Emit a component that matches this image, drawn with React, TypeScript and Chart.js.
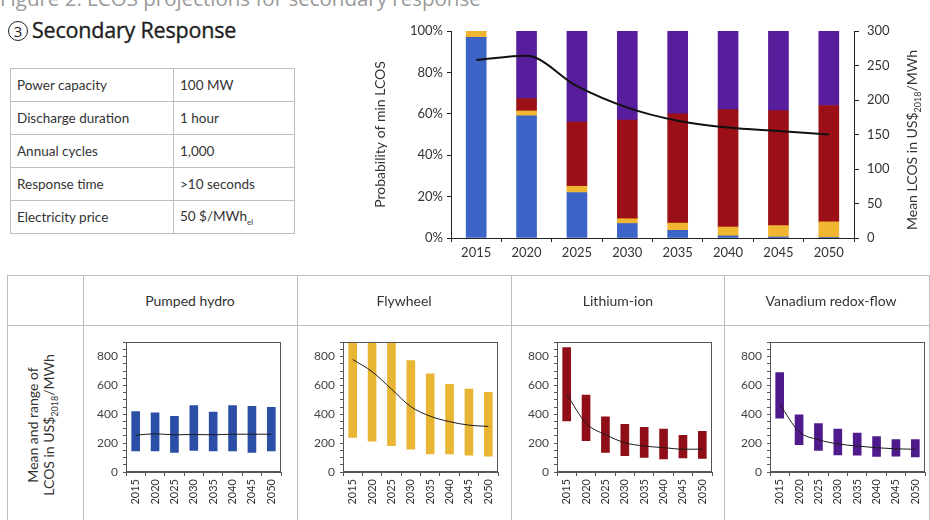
import React, { useEffect, useRef } from 'react';
import { Chart, registerables } from 'chart.js';

Chart.register(...registerables);

// ---------- data ----------
const years = ['2015', '2020', '2025', '2030', '2035', '2040', '2045', '2050'];

// top chart: probability of lowest LCOS (%)
const probPumpedHydro = [97, 59, 22, 7, 3.7, 1, 0.5, 0.3];
const probFlywheel = [3, 2.4, 3, 2.3, 3.5, 4.3, 5.5, 7.5];
const probLithiumIon = [0, 6, 31, 47.7, 52.8, 56.7, 55.5, 56.2];
const probVanadium = [0, 32.6, 44, 43, 40, 38, 38.5, 36];
// mean LCOS of the cheapest technology (US$2018/MWh)
const meanLcosOverall = [258, 264, 220, 189, 170, 160, 155, 150];

// left axis tick values (%) and right axis tick values
const probTicks = [0, 20, 40, 60, 80, 100];
const lcosTicks = [0, 50, 100, 150, 200, 250, 300];
const rangeTickLabels = [0, 200, 400, 600, 800];

// bottom panels: range (low / high) and mean of LCOS
const phLow = [146, 146, 135, 150, 146, 146, 135, 146];
const phHigh = [419, 410, 386, 460, 415, 460, 455, 448];
const phMean = [255, 265, 258, 260, 258, 262, 262, 262];

const fwLow = [239, 214, 183, 159, 126, 126, 117, 110];
const fwHigh = [1000, 1000, 1000, 773, 681, 608, 575, 552];
const fwMean = [780, 696, 575, 453, 387, 349, 325, 316];

const liLow = [354, 218, 135, 113, 101, 90, 97, 95];
const liHigh = [863, 534, 383, 331, 309, 297, 255, 282];
const liMean = [540, 338, 259, 203, 180, 169, 158, 158];

const vrLow = [374, 190, 150, 119, 116, 108, 110, 105];
const vrHigh = [690, 396, 336, 298, 269, 246, 224, 224];
const vrMean = [470, 280, 224, 195, 180, 168, 161, 157];

const techNames = ['Pumped hydro', 'Flywheel', 'Lithium-ion', 'Vanadium redox-flow'];

const tableRows: [string, string, string?][] = [
  ['Power capacity', '100 MW'],
  ['Discharge duration', '1 hour'],
  ['Annual cycles', '1,000'],
  ['Response time', '>10 seconds'],
  ['Electricity price', '50 $/MWh', 'el'],
];

// ---------- styles ----------
const FONT = 'Lato, "Noto Sans", sans-serif';
const C_BLUE = '#3c63c6';
const C_YELLOW = '#f0b531';
const C_RED = '#9a1016';
const C_PURPLE = '#571d9c';
const S_BLUE = '#2b4fa6';
const S_YELLOW = '#e8b534';
const S_RED = '#8f0e18';
const S_PURPLE = '#4e1a8c';
const GRID_LINE = '#bdbdbd';

const framePlugin = {
  id: 'frame',
  afterDraw(chart: any) {
    const { ctx, chartArea } = chart;
    ctx.save();
    ctx.strokeStyle = '#555';
    ctx.lineWidth = 1;
    ctx.strokeRect(
      Math.round(chartArea.left) + 0.5,
      Math.round(chartArea.top) + 0.5,
      Math.round(chartArea.right - chartArea.left) - 1,
      Math.round(chartArea.bottom - chartArea.top) - 1
    );
    ctx.restore();
  },
};

function ChartCanvas({ left, top, width, height, makeConfig }: any) {
  const ref = useRef<HTMLCanvasElement>(null);
  useEffect(() => {
    const chart = new Chart(ref.current as HTMLCanvasElement, makeConfig());
    return () => chart.destroy();
  }, []);
  return (
    <canvas
      ref={ref}
      width={width}
      height={height}
      style={{ position: 'absolute', left, top, width, height }}
    />
  );
}

function topConfig() {
  const barDs = (label: string, data: number[], color: string) => ({
    type: 'bar' as const,
    label,
    data,
    backgroundColor: color,
    borderWidth: 0,
    barThickness: 20,
    stack: 'share',
    yAxisID: 'y',
    order: 2,
  });
  return {
    type: 'bar',
    data: {
      labels: years,
      datasets: [
        {
          type: 'line' as const,
          label: 'Mean LCOS',
          data: meanLcosOverall,
          yAxisID: 'y1',
          borderColor: '#111',
          borderWidth: 2,
          pointRadius: 0,
          cubicInterpolationMode: 'monotone',
          order: 0,
        },
        barDs('Pumped hydro', probPumpedHydro, C_BLUE),
        barDs('Flywheel', probFlywheel, C_YELLOW),
        barDs('Lithium-ion', probLithiumIon, C_RED),
        barDs('Vanadium redox-flow', probVanadium, C_PURPLE),
      ],
    },
    options: {
      responsive: false,
      animation: false,
      devicePixelRatio: 1,
      layout: { padding: { left: 12, top: 16, right: 0, bottom: 0 } },
      plugins: { legend: { display: false }, tooltip: { enabled: false } },
      scales: {
        x: {
          stacked: true,
          grid: { drawOnChartArea: false, tickLength: 4, color: '#222', offset: true },
          border: { color: '#222', width: 1 },
          ticks: { color: '#333', font: { family: FONT, size: 13 }, padding: 3, maxRotation: 0 },
          afterFit: (s: any) => { s.height = 37; },
        },
        y: {
          stacked: true,
          min: 0,
          max: 100,
          afterBuildTicks: (s: any) => { s.ticks = probTicks.map((v) => ({ value: v })); },
          grid: { drawOnChartArea: false, tickLength: 4, color: '#222' },
          border: { color: '#222', width: 1 },
          ticks: { color: '#333', font: { family: FONT, size: 13 }, padding: 4, callback: (v: any) => v + '%' },
          title: { display: true, text: 'Probability of min LCOS', color: '#333', font: { family: FONT, size: 14 }, padding: { top: 0, bottom: 6 } },
          afterFit: (s: any) => { s.width = 79; },
        },
        y1: {
          position: 'right',
          min: 0,
          max: 300,
          afterBuildTicks: (s: any) => { s.ticks = lcosTicks.map((v) => ({ value: v })); },
          grid: { drawOnChartArea: false, tickLength: 5, color: '#222' },
          border: { color: '#222', width: 1 },
          ticks: { color: '#333', font: { family: FONT, size: 13 }, padding: 8 },
          afterFit: (s: any) => { s.width = 76; },
        },
      },
    },
  };
}

function rangeConfig(low: number[], high: number[], mean: number[], color: string) {
  return () => ({
    type: 'bar',
    data: {
      labels: years,
      datasets: [
        {
          type: 'line' as const,
          data: mean,
          borderColor: '#1a1a1a',
          borderWidth: 1,
          pointRadius: 0,
          cubicInterpolationMode: 'monotone',
          order: 0,
        },
        {
          type: 'bar' as const,
          data: low.map((l, i) => [l, high[i]]),
          backgroundColor: color,
          borderWidth: 0,
          barThickness: 8,
          order: 1,
        },
      ],
    },
    options: {
      responsive: false,
      animation: false,
      devicePixelRatio: 1,
      layout: { padding: { left: 0, top: 9, right: 7, bottom: 0 } },
      plugins: { legend: { display: false }, tooltip: { enabled: false } },
      scales: {
        x: {
          grid: { drawOnChartArea: false, tickLength: 4, color: '#555', offset: true },
          border: { color: '#555', width: 1 },
          ticks: { color: '#333', font: { family: FONT, size: 11 }, padding: 3, minRotation: 90, maxRotation: 90, autoSkip: false },
          afterFit: (s: any) => { s.height = 48; },
        },
        y: {
          min: 0,
          max: 900,
          ticks: {
            stepSize: 50,
            autoSkip: false,
            color: '#444',
            font: { family: FONT, size: 12 },
            padding: 5,
            callback: (v: any) => (rangeTickLabels.includes(v) ? String(v) : ''),
          },
          grid: { drawOnChartArea: false, tickLength: 3, color: '#555' },
          border: { color: '#555', width: 1 },
          afterFit: (s: any) => { s.width = 44; },
        },
      },
    },
    plugins: [framePlugin],
  });
}

const panels = [
  { name: techNames[0], plotLeft: 126, cfg: rangeConfig(phLow, phHigh, phMean, S_BLUE) },
  { name: techNames[1], plotLeft: 343, cfg: rangeConfig(fwLow, fwHigh, fwMean, S_YELLOW) },
  { name: techNames[2], plotLeft: 557, cfg: rangeConfig(liLow, liHigh, liMean, S_RED) },
  { name: techNames[3], plotLeft: 770, cfg: rangeConfig(vrLow, vrHigh, vrMean, S_PURPLE) },
];
const colLines = [83, 297, 511, 724];

export default function App() {
  const text: React.CSSProperties = { position: 'absolute', fontFamily: FONT, color: '#333', whiteSpace: 'nowrap' };
  return (
    <div style={{ position: 'absolute', left: 0, top: 0, width: 930, height: 520, overflow: 'hidden', background: '#fff' }}>
      {/* figure caption (cut at top) */}
      <div style={{ ...text, left: 0, top: -12, fontSize: 20.5, lineHeight: '21px', color: '#9a9a9a', fontFamily: '"Open Sans", sans-serif' }}>
        Figure 2. LCOS projections for secondary response
      </div>

      {/* heading */}
      <div style={{ position: 'absolute', left: 8, top: 21, width: 18, height: 18, border: '1.5px solid #222', borderRadius: '50%', fontFamily: '"Open Sans", sans-serif', fontSize: 15, lineHeight: '18px', textAlign: 'center', color: '#222' }}>3</div>
      <div style={{ ...text, left: 32, top: 17, fontSize: 21.5, fontWeight: 500, color: '#1e1e1e', lineHeight: '26px', fontFamily: '"Open Sans", sans-serif', letterSpacing: '-0.2px', WebkitTextStroke: '0.35px #1e1e1e' }}>Secondary Response</div>

      {/* parameters table */}
      <table style={{ position: 'absolute', left: 10, top: 68, borderCollapse: 'collapse', fontFamily: FONT, fontSize: 13.5, color: '#333' }}>
        <tbody>
          {tableRows.map((r, i) => (
            <tr key={i} style={{ height: 33 }}>
              <td style={{ border: `1px solid ${GRID_LINE}`, width: 156, padding: '0 0 0 6px' }}>{r[0]}</td>
              <td style={{ border: `1px solid ${GRID_LINE}`, width: 114, padding: '0 0 0 6px' }}>
                {r[1]}
                {r[2] ? <sub style={{ fontSize: 8 }}>{r[2]}</sub> : null}
              </td>
            </tr>
          ))}
        </tbody>
      </table>

      {/* top chart */}
      <ChartCanvas left={360} top={15} width={570} height={260} makeConfig={topConfig} />
      <div style={{ ...text, left: 915, top: 140, fontSize: 14, transform: 'translate(-50%, -50%) rotate(-90deg)', lineHeight: '16px' }}>
        Mean LCOS in US$<sub style={{ fontSize: 9 }}>2018</sub>/MWh
      </div>

      {/* bottom grid */}
      <div style={{ position: 'absolute', left: 7, top: 275, width: 940, height: 300, borderTop: `1px solid ${GRID_LINE}`, borderLeft: `1px solid ${GRID_LINE}` }} />
      <div style={{ position: 'absolute', left: 7, top: 325, width: 940, height: 0, borderTop: `1px solid ${GRID_LINE}` }} />
      {colLines.map((x) => (
        <div key={x} style={{ position: 'absolute', left: x, top: 275, width: 0, height: 300, borderLeft: `1px solid ${GRID_LINE}` }} />
      ))}
      <div style={{ position: 'absolute', left: 929, top: 275, width: 0, height: 300, borderLeft: `1px solid ${GRID_LINE}` }} />
      {panels.map((p, i) => (
        <div key={p.name} style={{ ...text, left: colLines[i], width: 214, top: 291, fontSize: 14, textAlign: 'center', lineHeight: '20px' }}>{p.name}</div>
      ))}
      <div style={{ ...text, left: 44, top: 425, fontSize: 14, lineHeight: '16px', textAlign: 'center', transform: 'translate(-50%, -50%) rotate(-90deg)' }}>
        Mean and range of<br />LCOS in US$<sub style={{ fontSize: 9 }}>2018</sub>/MWh
      </div>
      {panels.map((p) => (
        <ChartCanvas key={p.name} left={p.plotLeft - 44} top={330} width={206} height={190} makeConfig={p.cfg} />
      ))}
    </div>
  );
}
